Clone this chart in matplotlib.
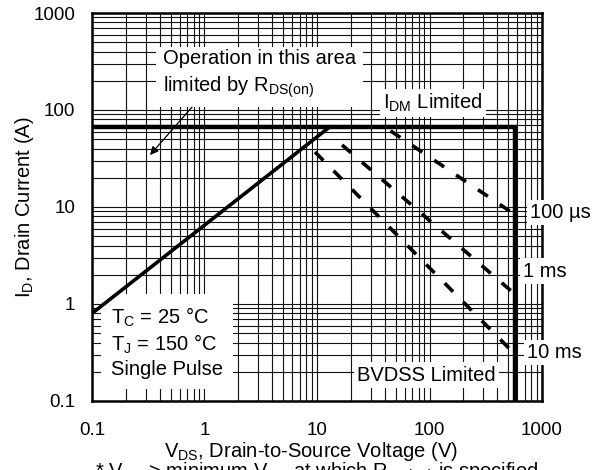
import matplotlib.pyplot as plt
import numpy as np
from matplotlib.ticker import NullFormatter, LogLocator

plt.rcParams['font.family'] = ['Liberation Sans', 'DejaVu Sans']
plt.rcParams['mathtext.fontset'] = 'custom'
plt.rcParams['mathtext.rm'] = 'Liberation Sans'
plt.rcParams['mathtext.it'] = 'Liberation Sans'
plt.rcParams['mathtext.default'] = 'regular'

# safe operating area curves
rds_v = [0.1, 13.2]
rds_i = [0.8, 68]
limit_v = [0.1, 580, 580]
limit_i = [67, 67, 0.1]
p100us_v = [45, 580]
p100us_i = [61, 8.3]
p1ms_v = [16.7, 580]
p1ms_i = [43.6, 1.25]
p10ms_v = [9.6, 580]
p10ms_i = [36.9, 0.30]

tick_vals = [0.1, 1, 10, 100, 1000]
tick_labels = ["0.1", "1", "10", "100", "1000"]

fig = plt.figure(figsize=(6.03, 4.70), dpi=100)
ax = fig.add_axes([0.15257, 0.14681, 0.74627, 0.82553])
ax.set_xscale('log')
ax.set_yscale('log')
ax.set_xlim(0.1, 1000)
ax.set_ylim(0.1, 1000)

ax.set_xticks(tick_vals)
ax.set_xticklabels(tick_labels)
ax.set_yticks(tick_vals)
ax.set_yticklabels(tick_labels)
ax.xaxis.set_minor_locator(LogLocator(base=10, subs=np.arange(2, 10)))
ax.yaxis.set_minor_locator(LogLocator(base=10, subs=np.arange(2, 10)))
ax.xaxis.set_minor_formatter(NullFormatter())
ax.yaxis.set_minor_formatter(NullFormatter())
ax.tick_params(which='both', length=0, labelsize=13.5)
ax.tick_params(axis='x', pad=15)
ax.tick_params(axis='y', pad=12)

ax.set_axisbelow(True)
ax.grid(which='both', color='#111111', linewidth=0.8)
for s in ax.spines.values():
    s.set_linewidth(1.8)
    s.set_color('black')

lw = 2.6
ax.plot(rds_v, rds_i, color='black', lw=lw, zorder=5, solid_capstyle='butt')
ax.plot(limit_v, limit_i, color='black', lw=3.2, zorder=5, solid_joinstyle='miter')
for xs, ys in [(p100us_v, p100us_i), (p1ms_v, p1ms_i), (p10ms_v, p10ms_i)]:
    ax.plot(xs, ys, color='black', lw=lw, linestyle=(0, (3.3, 4.0)),
            dash_capstyle='butt', zorder=5)

box = dict(facecolor='white', edgecolor='none', boxstyle='square,pad=0.35')
tc_box = dict(facecolor='white', edgecolor='none', boxstyle='square,pad=0.5')
small_box = dict(facecolor='white', edgecolor='none', boxstyle='square,pad=0.15')
fs = 14.5

ax.text(0.158, 0.841, "Operation in this area\nlimited by R$_{DS(on)}$",
        transform=ax.transAxes, fontsize=fs, ha='left', va='center',
        linespacing=1.35, bbox=box, zorder=3)
ax.annotate("", xy=(0.328, 34.4), xytext=(0.774, 107),
            arrowprops=dict(arrowstyle='-|>', color='black', lw=0.9,
                            mutation_scale=12, shrinkA=0, shrinkB=0),
            zorder=4)
ax.text(0.647, 0.768, "I$_{DM}$ Limited", transform=ax.transAxes,
        fontsize=fs, ha='left', va='center', bbox=small_box, zorder=3)
ax.text(0.973, 0.485, "100 µs", transform=ax.transAxes, fontsize=fs,
        ha='left', va='center', bbox=small_box, zorder=3, clip_on=False)
ax.text(0.957, 0.335, "1 ms", transform=ax.transAxes, fontsize=fs,
        ha='left', va='center', bbox=small_box, zorder=3, clip_on=False)
ax.text(0.967, 0.126, "10 ms", transform=ax.transAxes, fontsize=fs,
        ha='left', va='center', bbox=small_box, zorder=3, clip_on=False)
ax.text(0.589, 0.067, "BVDSS Limited", transform=ax.transAxes, fontsize=fs,
        ha='left', va='center', bbox=small_box, zorder=3)
ax.text(0.042, 0.152, "T$_C$ = 25 °C\nT$_J$ = 150 °C\nSingle Pulse",
        transform=ax.transAxes, fontsize=fs, ha='left', va='center',
        linespacing=1.24, bbox=tc_box, zorder=3)

ax.set_xlabel("V$_{DS}$, Drain-to-Source Voltage (V)", fontsize=fs, labelpad=1)
ax.xaxis.label.set_x(0.487)
ax.set_ylabel("I$_D$, Drain Current (A)", fontsize=fs, labelpad=-2)

fig.text(0.157, -0.0165, "* V$_{GS}$ > minimum V$_{GS}$ at which R$_{DS(on)}$ is specified",
         fontsize=fs, ha='left', va='baseline')

fig.savefig("out.png", dpi=100)
